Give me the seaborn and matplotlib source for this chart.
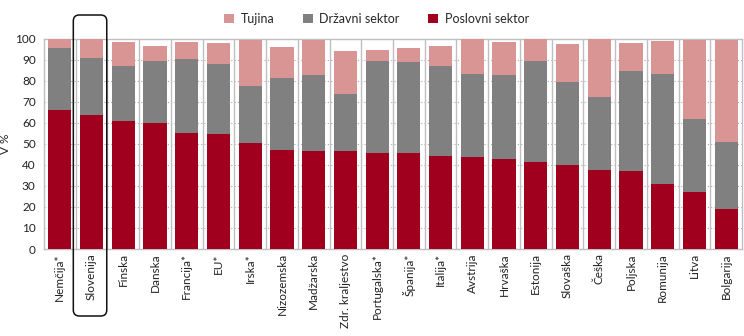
import numpy as np
import pandas as pd
import matplotlib
matplotlib.use("Agg")
import matplotlib.pyplot as plt
import seaborn as sns
from matplotlib.patches import FancyBboxPatch
from matplotlib.transforms import IdentityTransform

countries = ["Nemčija*", "Slovenija", "Finska", "Danska", "Francija*", "EU*", "Irska*",
             "Nizozemska", "Madžarska", "Zdr. kraljestvo", "Portugalska*", "Španija*",
             "Italija*", "Avstrija", "Hrvaška", "Estonija", "Slovaška", "Češka",
             "Poljska", "Romunija", "Litva", "Bolgarija"]
poslovni = [66.1, 63.7, 60.9, 59.9, 55.2, 54.7, 50.4, 47.1, 46.6, 46.6, 45.6, 45.6,
            44.2, 43.7, 42.8, 41.4, 39.9, 37.6, 37.1, 30.9, 27.1, 19.0]
drzavni = [29.5, 27.1, 26.1, 29.5, 35.1, 33.2, 27.1, 34.2, 36.1, 27.1, 43.8, 43.3,
           42.8, 39.5, 39.9, 48.0, 39.5, 34.7, 47.5, 52.3, 34.7, 31.9]
tujina = [4.3, 9.2, 11.4, 7.1, 8.1, 10.0, 21.9, 14.7, 16.7, 20.4, 5.2, 6.7,
          9.5, 16.6, 15.7, 10.4, 18.1, 27.5, 13.3, 15.7, 37.6, 48.5]
legend_labels = ["Tujina", "Državni sektor", "Poslovni sektor"]
highlight = "Slovenija"

c_tuj = "#D99594"
c_drz = "#808080"
c_pos = "#A0001E"
edge = "#BFBFBF"

sns.set_theme(style="white")
plt.rcParams["font.family"] = ["Lato", "DejaVu Sans"]

df = pd.DataFrame({"drzava": countries, "pos": poslovni, "drz": drzavni, "tuj": tujina})
df["top_drz"] = df["pos"] + df["drz"]
df["top_tuj"] = df["top_drz"] + df["tuj"]

fig = plt.figure(figsize=(7.44, 3.36), dpi=100)
ax = fig.add_axes([44 / 744, 1 - 249 / 336, 698 / 744, (249 - 38.5) / 336])

w = 0.73
sns.barplot(data=df, x="drzava", y="top_tuj", color=c_tuj, width=w, ax=ax,
            label=legend_labels[0], saturation=1, linewidth=0, zorder=3)
sns.barplot(data=df, x="drzava", y="top_drz", color=c_drz, width=w, ax=ax,
            label=legend_labels[1], saturation=1, linewidth=0, zorder=3)
sns.barplot(data=df, x="drzava", y="pos", color=c_pos, width=w, ax=ax,
            label=legend_labels[2], saturation=1, linewidth=0, zorder=3)

n = len(countries)
ax.set_xlim(-0.5, n - 0.5)
ax.set_ylim(0, 100)
ax.set_yticks(np.arange(0, 101, 10))
ax.tick_params(axis="y", length=0, pad=6, labelsize=8.5, colors="#222222")
ax.tick_params(axis="x", length=0, pad=3, labelsize=8.5, colors="#222222")
ax.set_xticks(range(n))
ax.set_xticklabels(countries, rotation=90, va="top", ha="center")
ax.set_xlabel("")
ax.set_ylabel("V %", fontsize=8.5, color="#222222")
ax.yaxis.set_label_coords((11 - 44) / 698, 0.5)

for y in range(10, 100, 10):
    ax.axhline(y, color="#AAAAAA", lw=0.8, ls=(0, (1, 2)), zorder=1)
for x in np.arange(0.5, n - 0.5, 1):
    ax.axvline(x, color=edge, lw=1.0, zorder=2)
for s in ax.spines.values():
    s.set_color(edge)
    s.set_linewidth(1.0)

leg = ax.legend(loc="center left", bbox_to_anchor=(213 / 744, 1 - 19 / 336),
                bbox_transform=fig.transFigure, ncol=3, frameon=False,
                fontsize=9, handlelength=0.8, handleheight=0.8,
                handletextpad=0.5, columnspacing=2.3)

# rounded frame around the highlighted country
i = countries.index(highlight)
x0 = ax.transData.transform((i - 0.576, 0))[0]
x1 = ax.transData.transform((i + 0.478, 0))[0]
y0 = 336 - 316
y1 = 336 - 15
box = FancyBboxPatch((x0, y0), x1 - x0, y1 - y0,
                     boxstyle="round,pad=0,rounding_size=6",
                     transform=IdentityTransform(), fill=False,
                     edgecolor="#111111", lw=1.1, clip_on=False, zorder=10)
fig.patches.append(box)

fig.savefig("out.png", dpi=100)
